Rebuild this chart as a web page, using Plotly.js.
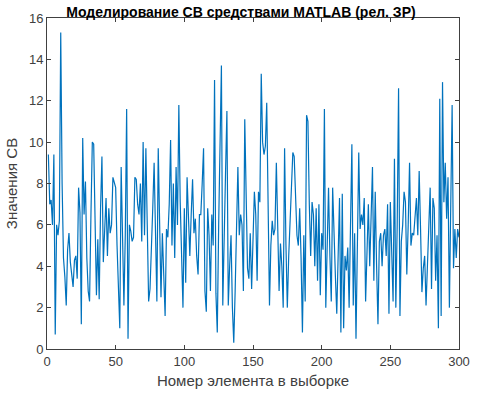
<!DOCTYPE html>
<html>
<head>
<meta charset="utf-8">
<script src="https://cdn.plot.ly/plotly-3.0.1.min.js"></script>
<style>html,body{margin:0;padding:0;background:#fff}#chart{width:482px;height:393px}</style>
</head>
<body>
<div id="chart"></div>
<script>
const values1 = [9.4,7.0,7.2,6.0,9.4,0.7,6.0,5.5,6.2,15.3,8.0,4.4,3.5,2.1,4.8,5.6,4.2,3.6,3.0,4.3,4.5,3.4,7.8,6.6,1.2,10.2,6.5,8.1,4.4,2.8];
const values2 = [2.3,6.5,10.0,9.9,7.0,2.6,5.3,2.4,6.8,9.3,4.2,6.0,7.3,4.5,6.8,5.6,6.0,8.3,8.1,7.8,5.0,2.8,1.0,8.8,6.0,2.1,5.5,11.6,0.5,6.0];
const values3 = [5.7,5.2,5.4,8.3,8.2,7.0,6.5,8.0,5.2,10.0,5.5,9.7,6.0,2.3,2.9,4.5,6.8,9.0,5.5,2.3,9.7,6.0,2.5,5.6,3.2,1.6,5.8,5.4,7.0,10.1,5.0,8.0];
const values4 = [4.4,8.8,6.0,11.8,7.1,4.5,2.0,6.8,3.2,8.3,6.0,4.5,6.5,8.2,5.6,6.3,4.5,3.6,6.5,6.5,8.0,9.7,2.8,1.8,6.8,5.5,2.8,6.5,5.0,13.0];
const values5 = [2.7,0.8,6.0,10.0,13.7,2.1,6.0,8.5,11.5,2.1,4.0,5.5,2.0,0.3,2.8,6.0,8.8,5.5,6.5,6.0,2.8,11.1,7.0,3.9,3.4,5.6,2.9,5.0,7.6,6.5];
const values6 = [3.3,7.6,7.1,13.3,10.0,9.4,9.8,11.9,6.0,2.1,5.0,6.2,5.5,5.8,9.0,5.0,2.8,5.1,4.0,2.0,9.7,5.0,2.0,4.5,6.5,7.5,9.5,9.3,7.0,5.5,5.0];
const values7 = [6.8,4.4,0.8,5.5,2.3,11.3,11.0,7.0,4.5,7.1,6.5,4.0,6.8,3.3,7.0,2.6,5.6,4.8,11.6,2.0,5.0,7.8,4.5,2.3,7.8,5.0,3.5,1.7,5.5,7.3,0.8];
const values8 = [7.5,1.0,4.5,3.8,4.9,2.0,6.0,9.9,2.1,5.6,0.5,6.0,9.5,5.8,6.5,6.0,7.3,2.3,5.0,7.0,4.0,6.5,8.8,3.3,7.6,4.0,1.2,5.2,5.6,4.0,5.5];
const values9 = [5.8,4.5,7.0,1.7,7.1,4.0,2.3,9.2,2.0,6.0,12.6,1.6,5.2,6.0,7.6,7.1,3.6,6.0,9.0,5.0,5.6,5.5,6.5,7.3,5.5,8.6,5.8,2.75,3.9,4.5];
const values10 = [2.1,4.0,6.8,7.8,2.9,7.3,6.8,3.3,5.5,1.0,12.1,1.6,12.9,7.1,9.0,6.3,8.3,2.0,7.0,11.8,3.9,5.8,4.4,5.8,5.4];
const yValues = [].concat(values1,values2,values3,values4,values5,values6,values7,values8,values9,values10);
const xValues = yValues.map((v,i)=>i+1);
const titleText = 'Моделирование СВ средствами MATLAB (рел. ЗР)';
const xTitle = 'Номер элемента в выборке';
const yTitle = 'Значения СВ';
const xTicks = [0,50,100,150,200,250,300];
const yTicks = [0,2,4,6,8,10,12,14,16];

const fam = 'Liberation Sans, Arial, sans-serif';
const axisCommon = {
  showgrid:false, zeroline:false, showline:true, mirror:'ticks',
  linecolor:'#404040', linewidth:1, ticks:'inside', ticklen:4, tickcolor:'#404040',
  tickfont:{family:fam, size:13, color:'#404040'}
};
Plotly.newPlot('chart',[{
  x:xValues, y:yValues, type:'scatter', mode:'lines',
  line:{color:'#0072BD', width:1.2}
}],{
  width:482, height:393,
  margin:{l:47,r:23,t:18,b:44},
  paper_bgcolor:'#ffffff', plot_bgcolor:'#ffffff',
  showlegend:false,
  title:{text:'<b>'+titleText+'</b>', font:{family:fam, size:14, color:'#000'}, x:0.5, xanchor:'center', y:0.968, yanchor:'middle', yref:'container'},
  xaxis:Object.assign({}, axisCommon, {range:[0,300], tickvals:xTicks, ticktext:xTicks.map(String),
    title:{text:xTitle, font:{family:fam, size:15, color:'#404040'}, standoff:7}}),
  yaxis:Object.assign({}, axisCommon, {range:[0,16], tickvals:yTicks, ticktext:yTicks.map(String),
    title:{text:yTitle, font:{family:fam, size:15, color:'#404040'}, standoff:7}})
},{staticPlot:true, displayModeBar:false});
</script>
</body>
</html>
